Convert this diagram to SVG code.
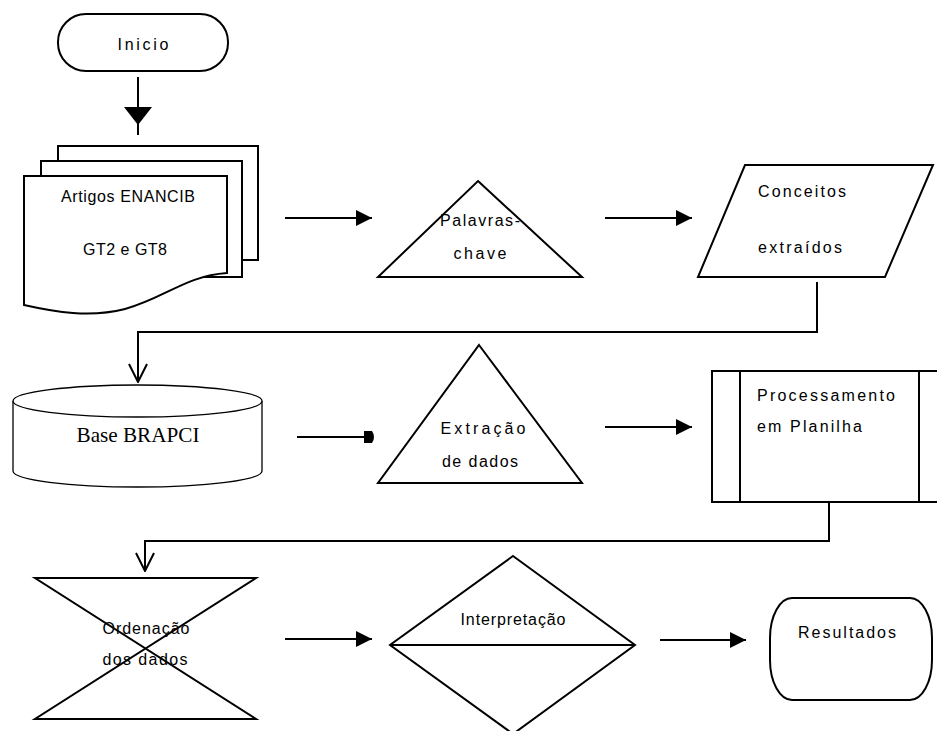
<svg xmlns="http://www.w3.org/2000/svg" width="937" height="731" viewBox="0 0 937 731">
  <style>
    .shape { fill: #fff; stroke: #000; stroke-width: 2; }
    .thin { fill: #fff; stroke: #000; stroke-width: 1.3; }
    .line { fill: none; stroke: #000; stroke-width: 2; }
    .lbl { font-family: "Liberation Sans", "DejaVu Sans", sans-serif; font-size: 16px; fill: #000; }
    .serif { font-family: "Liberation Serif", serif; font-size: 21px; fill: #000; }
  </style>
  <defs>
    <marker id="solid" viewBox="0 0 10 10" refX="10" refY="5" markerWidth="18" markerHeight="16" markerUnits="userSpaceOnUse" orient="auto">
      <path d="M0,0 L10,5 L0,10 Z" fill="#000"/>
    </marker>
    <marker id="open" viewBox="0 0 20 20" refX="19" refY="10" markerWidth="20" markerHeight="20" markerUnits="userSpaceOnUse" orient="auto">
      <path d="M1,1 L19,10 L1,19" fill="none" stroke="#000" stroke-width="2"/>
    </marker>
  </defs>

  <!-- connectors -->
  <g id="connectors">
    <line class="line" x1="138" y1="77" x2="138" y2="135"/>
    <path d="M124,107 H152 L138,125 Z" fill="#000"/>
    <line class="line" x1="285" y1="218" x2="372" y2="218" marker-end="url(#solid)"/>
    <line class="line" x1="605" y1="218" x2="692" y2="218" marker-end="url(#solid)"/>
    <polyline class="line" points="817,282 817,332 138,332 138,382" marker-end="url(#open)"/>
    <line class="line" x1="297" y1="437" x2="370" y2="437"/>
    <path d="M364,431 H372 Q376,437 372,443 H364 Z" fill="#000"/>
    <line class="line" x1="605" y1="427" x2="692" y2="427" marker-end="url(#solid)"/>
    <polyline class="line" points="829,502 829,541 145,541 145,571" marker-end="url(#open)"/>
    <line class="line" x1="285" y1="639" x2="372" y2="639" marker-end="url(#solid)"/>
    <line class="line" x1="660" y1="640" x2="746" y2="640" marker-end="url(#solid)"/>
  </g>

  <g id="inicio">
    <rect class="shape" x="58" y="14" width="170" height="57" rx="28" ry="28"/>
    <text class="lbl" x="143" y="50" text-anchor="middle" textLength="51" lengthAdjust="spacing">Inicio</text>
  </g>

  <g id="artigos">
    <rect class="shape" x="58" y="146" width="200" height="114"/>
    <rect class="shape" x="41" y="161" width="201" height="116"/>
    <path class="shape" d="M24,176 H227 V273 C185,276 165,298 125,309 C90,318 55,312 24,305 Z"/>
    <text class="lbl" x="128" y="202" text-anchor="middle" textLength="134" lengthAdjust="spacing">Artigos ENANCIB</text>
    <text class="lbl" x="125" y="255" text-anchor="middle" textLength="84" lengthAdjust="spacing">GT2 e GT8</text>
  </g>

  <g id="palavras">
    <polygon class="shape" points="478,181 582,277 378,277"/>
    <text class="lbl" x="480" y="226" text-anchor="middle" textLength="80" lengthAdjust="spacing">Palavras-</text>
    <text class="lbl" x="480" y="259" text-anchor="middle" textLength="53" lengthAdjust="spacing">chave</text>
  </g>

  <g id="conceitos">
    <polygon class="shape" points="745,165 933,165 885,277 698,277"/>
    <text class="lbl" x="758" y="197" textLength="88" lengthAdjust="spacing">Conceitos</text>
    <text class="lbl" x="758" y="253" textLength="84" lengthAdjust="spacing">extraídos</text>
  </g>

  <g id="brapci">
    <path class="thin" d="M13,401 V471 A124.5,16 0 0 0 262,471 V401"/>
    <ellipse class="thin" cx="137.5" cy="401" rx="124.5" ry="16"/>
    <text class="serif" x="138" y="442" text-anchor="middle" textLength="123" lengthAdjust="spacingAndGlyphs">Base BRAPCI</text>
  </g>

  <g id="extracao">
    <polygon class="shape" points="479,345 582,483 378,483"/>
    <text class="lbl" x="483" y="434" text-anchor="middle" textLength="85" lengthAdjust="spacing">Extração</text>
    <text class="lbl" x="480" y="467" text-anchor="middle" textLength="76" lengthAdjust="spacing">de dados</text>
  </g>

  <g id="processamento">
    <rect class="shape" x="712" y="371" width="240" height="131"/>
    <line class="line" x1="740" y1="371" x2="740" y2="502"/>
    <line class="line" x1="919" y1="371" x2="919" y2="502"/>
    <text class="lbl" x="757" y="401" textLength="138" lengthAdjust="spacing">Processamento</text>
    <text class="lbl" x="757" y="432" textLength="105" lengthAdjust="spacing">em Planilha</text>
  </g>

  <g id="ordenacao">
    <polygon class="shape" points="35,578 256,578 35,719 256,719"/>
    <text class="lbl" x="146" y="634" text-anchor="middle" textLength="87" lengthAdjust="spacing">Ordenação</text>
    <text class="lbl" x="145" y="665" text-anchor="middle" textLength="85" lengthAdjust="spacing">dos dados</text>
  </g>

  <g id="interpretacao">
    <polygon class="shape" points="513,556 635,645 513,734 390,645"/>
    <line class="line" x1="390" y1="645" x2="635" y2="645"/>
    <text class="lbl" x="513" y="625" text-anchor="middle" textLength="105" lengthAdjust="spacing">Interpretação</text>
  </g>

  <g id="resultados">
    <rect class="shape" x="770" y="598" width="162" height="102" rx="22" ry="40"/>
    <text class="lbl" x="847" y="638" text-anchor="middle" textLength="98" lengthAdjust="spacing">Resultados</text>
  </g>
</svg>
